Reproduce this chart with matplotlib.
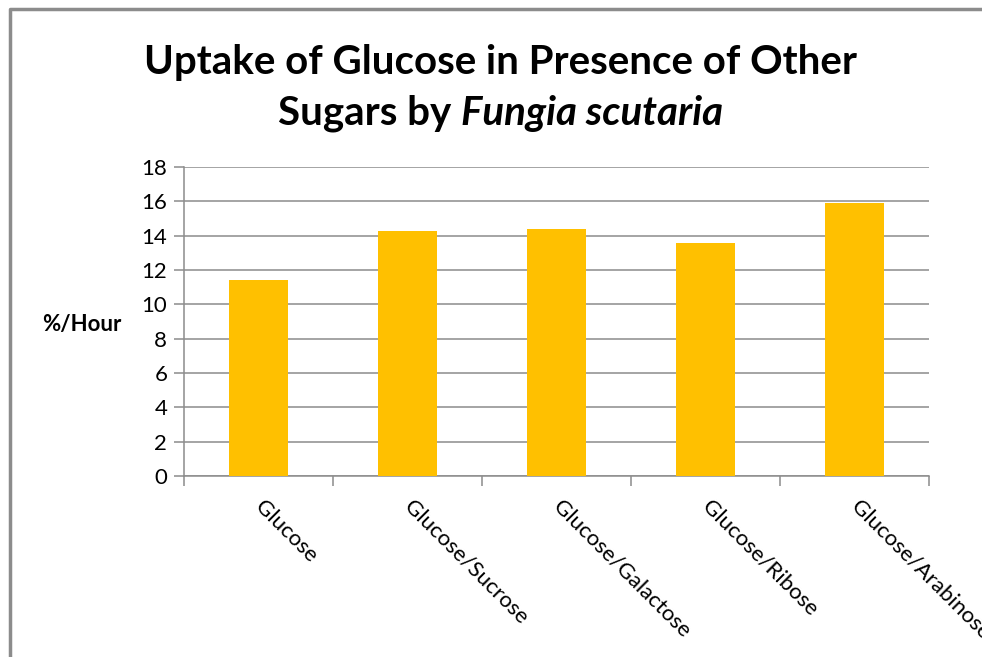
import matplotlib.pyplot as plt
from matplotlib.lines import Line2D
from matplotlib.ticker import FixedLocator

# datos
categories = ["Glucose", "Glucose/Sucrose", "Glucose/Galactose", "Glucose/Ribose", "Glucose/Arabinose"]
uptake = [11.4, 14.3, 14.4, 13.6, 15.9]
y_ticks = [0, 2, 4, 6, 8, 10, 12, 14, 16, 18]

plt.rcParams["font.family"] = ["Lato", "DejaVu Sans"]
GRAY = "#8c8c8c"

fig = plt.figure(figsize=(9.82, 6.57), dpi=100)
ax = fig.add_axes([0.1874, 0.2755, 0.7587, 0.4703])

x = list(range(len(categories)))
ax.bar(x, uptake, width=0.40, color="#FFC000", zorder=3)

ax.set_xlim(-0.5, len(categories) - 0.5)
ax.set_ylim(0, 18)
ax.set_yticks(y_ticks)
ax.set_yticklabels([str(v) for v in y_ticks], fontsize=16)
ax.yaxis.grid(True, color=GRAY, linewidth=1.1, zorder=0)

# marcas del eje x en los limites de cada categoria
ax.set_xticks(x)
ax.set_xticklabels(categories, fontsize=16, rotation=-45, rotation_mode="anchor",
                   ha="left", va="center")
ax.tick_params(axis="x", which="major", length=0, pad=20)
ax.xaxis.set_minor_locator(FixedLocator([i - 0.5 for i in range(len(categories) + 1)]))
ax.tick_params(axis="x", which="minor", length=7, color=GRAY, width=1.1)
ax.tick_params(axis="y", length=7, color=GRAY, width=1.1, pad=5)

for side in ["top", "right"]:
    ax.spines[side].set_visible(False)
for side in ["left", "bottom"]:
    ax.spines[side].set_color(GRAY)
    ax.spines[side].set_linewidth(1.1)

ax.set_ylabel("%/Hour", fontsize=16, fontweight="bold", rotation=0, va="center")
ax.yaxis.set_label_coords(-0.137, 0.49)

# titulo: segunda linea con el nombre de la especie en cursiva
fig.text(0.51, 0.905, "Uptake of Glucose in Presence of Other", ha="center", va="center",
         fontsize=29, fontweight="bold")
t1 = fig.text(0, 0.828, "Sugars by ", ha="left", va="center", fontsize=29, fontweight="bold")
t2 = fig.text(0, 0.828, "Fungia scutaria", ha="left", va="center", fontsize=29,
              fontweight="bold", style="italic")
fig.canvas.draw()
r = fig.canvas.get_renderer()
w1 = t1.get_window_extent(r).width / fig.bbox.width
w2 = t2.get_window_extent(r).width / fig.bbox.width
x0 = 0.51 - (w1 + w2) / 2
t1.set_x(x0)
t2.set_x(x0 + w1)

# marco exterior (solo lados superior e izquierdo visibles)
fx, fy = 9.5 / 982, 1 - 8.5 / 657
fig.lines.append(Line2D([fx, fx, 1.0], [0, fy, fy], transform=fig.transFigure,
                        color=GRAY, linewidth=2.5))

plt.savefig("out.png", dpi=100)
plt.close()
